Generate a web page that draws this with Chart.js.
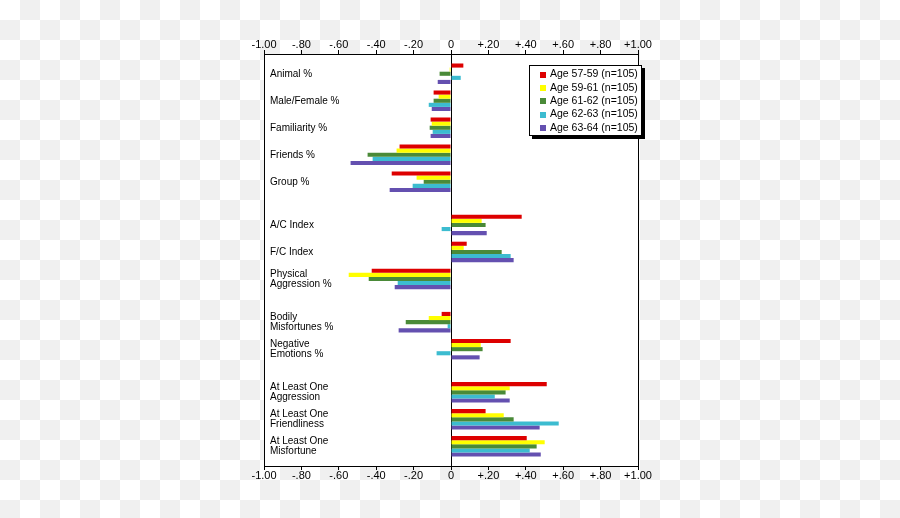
<!DOCTYPE html>
<html>
<head>
<meta charset="utf-8">
<script src="https://cdn.jsdelivr.net/npm/chart.js@4"></script>
<style>
  html, body { margin: 0; padding: 0; }
  body {
    width: 900px; height: 518px; overflow: hidden;
    background-color: #fff;
    background-image: conic-gradient(#f0f0f0 0 25%, #ffffff 0 50%, #f0f0f0 0 75%, #ffffff 0);
    background-size: 40px 40px;
  }
  #wrap { position: relative; width: 900px; height: 518px; }
</style>
</head>
<body>
<div id="wrap"><canvas id="c"></canvas></div>
<script>
// ---- data ----
const categories = [
  'Animal %', 'Male/Female %', 'Familiarity %', 'Friends %', 'Group %',
  'A/C Index', 'F/C Index', ['Physical', 'Aggression %'],
  ['Bodily', 'Misfortunes %'], ['Negative', 'Emotions %'],
  ['At Least One', 'Aggression'], ['At Least One', 'Friendliness'], ['At Least One', 'Misfortune']
];
// categories that start a new block (an extra gap is left before them)
const sectionStarts = ['A/C Index', 'Bodily Misfortunes %', 'At Least One Aggression'];

const seriesLabels = [
  'Age 57-59 (n=105)', 'Age 59-61 (n=105)', 'Age 61-62 (n=105)',
  'Age 62-63 (n=105)', 'Age 63-64 (n=105)'
];
const age5759 = [0.066, -0.093, -0.109, -0.275, -0.317, 0.378, 0.084, -0.424, -0.050, 0.319, 0.512, 0.185, 0.405];
const age5961 = [-0.007, -0.066, -0.103, -0.291, -0.184, 0.164, 0.068, -0.547, -0.119, 0.159, 0.314, 0.282, 0.501];
const age6162 = [-0.061, -0.093, -0.114, -0.446, -0.146, 0.185, 0.271, -0.440, -0.242, 0.169, 0.292, 0.335, 0.458];
const age6263 = [0.052, -0.119, -0.098, -0.419, -0.205, -0.050, 0.319, -0.285, -0.018, -0.077, 0.234, 0.576, 0.421];
const age6364 = [-0.071, -0.103, -0.109, -0.537, -0.328, 0.191, 0.335, -0.301, -0.280, 0.153, 0.314, 0.474, 0.480];
const xTickValues = [-1, -0.8, -0.6, -0.4, -0.2, 0, 0.2, 0.4, 0.6, 0.8, 1];

// ---- styles / layout ----
const colors = ['#dd0000', '#ffff00', '#4a8a38', '#3cbcd0', '#6450b0'];
const GAP = 0.6;                 // extra slots between blocks
const FONT = '"Liberation Sans", Arial, sans-serif';

// slot index of each category along the value axis
const slotOf = [];
(function () {
  let p = 0;
  categories.forEach((c, i) => {
    const name = Array.isArray(c) ? c.join(' ') : c;
    if (i > 0) p += 1 + (sectionStarts.includes(name) ? GAP : 0);
    slotOf.push(p);
  });
})();

const AREA = { left: 264, right: 638, top: 54, bottom: 466 };
const SLOT_PX = 27, FIRST_CENTER_PX = 73.75;
const yMin = -(FIRST_CENTER_PX - AREA.top) / SLOT_PX;
const yMax = yMin + (AREA.bottom - AREA.top) / SLOT_PX;

const allSeries = [age5759, age5961, age6162, age6263, age6364];
const datasets = allSeries.map((vals, s) => ({
  label: seriesLabels[s],
  data: vals.map((v, i) => ({ x: v, y: slotOf[i] })),
  backgroundColor: colors[s],
  borderWidth: 0,
  categoryPercentage: 0.76,
  barPercentage: 1.0
}));

function fmtTick(v) {
  if (Math.abs(v) < 1e-9) return '0';
  let s = Math.abs(v).toFixed(2);
  if (s.startsWith('0')) s = s.slice(1);
  return (v > 0 ? '+' : '-') + s;
}

const frame = {
  id: 'frame',
  beforeDraw(chart) {
    const { ctx, chartArea: a } = chart;
    ctx.save();
    ctx.fillStyle = '#ffffff';
    ctx.fillRect(a.left, a.top, a.right - a.left, a.bottom - a.top);
    ctx.restore();
  },
  afterDatasetsDraw(chart) {
    const { ctx, chartArea: a } = chart;
    ctx.save();
    ctx.strokeStyle = '#000';
    ctx.lineWidth = 1;
    ctx.strokeRect(a.left + 0.5, a.top + 0.5, a.right - a.left, a.bottom - a.top);
    ctx.restore();
  }
};

const boxLegend = {
  id: 'boxLegend',
  afterDraw(chart, args, o) {
    const { ctx } = chart;
    ctx.save();
    ctx.fillStyle = '#000';
    ctx.fillRect(o.x + o.shadow, o.y + o.shadow, o.w, o.h);
    ctx.fillStyle = '#fff';
    ctx.fillRect(o.x, o.y, o.w, o.h);
    ctx.strokeStyle = '#000';
    ctx.lineWidth = 1;
    ctx.strokeRect(o.x + 0.5, o.y + 0.5, o.w - 1, o.h - 1);
    ctx.font = o.fontSize + 'px ' + FONT;
    ctx.textBaseline = 'middle';
    ctx.textAlign = 'left';
    chart.data.datasets.forEach((d, i) => {
      const cy = o.firstRow + i * o.rowStep;
      ctx.fillStyle = d.backgroundColor;
      ctx.fillRect(o.markerX, Math.round(cy - o.marker / 2), o.marker, o.marker);
      ctx.fillStyle = '#000';
      ctx.fillText(d.label, o.textX, cy);
    });
    ctx.restore();
  }
};

Chart.defaults.font.family = FONT;
Chart.defaults.font.size = 10;
Chart.defaults.color = '#000';

const xCommon = {
  type: 'linear',
  min: -1, max: 1,
  afterBuildTicks: s => { s.ticks = xTickValues.map(v => ({ value: v })); },
  ticks: {
    callback: v => fmtTick(v),
    font: { size: 11, lineHeight: 1 },
    color: '#000',
    padding: 0,
    maxRotation: 0,
    autoSkip: false
  },
  border: { display: false },
  afterFit: s => { s.height = 20; }
};

new Chart(document.getElementById('c'), {
  type: 'bar',
  data: { datasets },
  options: {
    indexAxis: 'y',
    responsive: true,
    maintainAspectRatio: false,
    animation: false,
    devicePixelRatio: 1,
    layout: {
      padding: { left: AREA.left, right: 900 - AREA.right, top: AREA.top - 20, bottom: 518 - AREA.bottom - 20 }
    },
    plugins: {
      legend: { display: false },
      tooltip: { enabled: false },
      boxLegend: {
        x: 529, y: 65, w: 113, h: 71, shadow: 3, fontSize: 10.5,
        marker: 6, markerX: 540, textX: 550, firstRow: 74.5, rowStep: 13.35
      }
    },
    scales: {
      x: Object.assign({}, xCommon, {
        position: 'bottom',
        grid: {
          color: c => (c.tick && Math.abs(c.tick.value) < 1e-9 ? '#000' : 'rgba(0,0,0,0)'),
          lineWidth: 1,
          drawTicks: true,
          tickLength: 4,
          tickColor: '#000'
        }
      }),
      x2: Object.assign({}, xCommon, {
        position: 'top',
        grid: {
          drawOnChartArea: false,
          drawTicks: true,
          tickLength: 4,
          tickColor: '#000',
          color: 'rgba(0,0,0,0)'
        }
      }),
      y: {
        type: 'linear',
        position: 'left',
        reverse: true,
        offset: false,
        min: yMin, max: yMax,
        afterBuildTicks: s => { s.ticks = slotOf.map(v => ({ value: v })); },
        afterFit: s => { s.width = 0; },
        grid: { display: false, offset: false },
        border: { display: false },
        ticks: {
          mirror: true,
          padding: 6,
          autoSkip: false,
          color: '#000',
          font: { size: 10, lineHeight: 1 },
          callback: (v, i) => categories[i]
        }
      }
    }
  },
  plugins: [frame, boxLegend]
});
</script>
</body>
</html>
